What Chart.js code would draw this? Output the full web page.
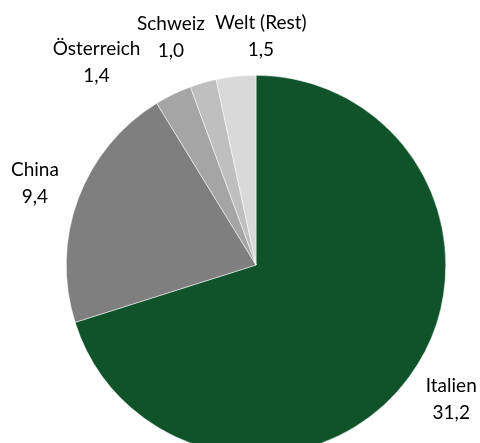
<!DOCTYPE html>
<html>
<head>
<meta charset="utf-8">
<script src="https://cdn.jsdelivr.net/npm/chart.js@4"></script>
<style>
  html, body { margin: 0; padding: 0; background: #fff; overflow: hidden; }
  #wrap { width: 480px; height: 470px; }
</style>
</head>
<body>
<div id="wrap"><canvas id="pieChart" width="480" height="470"></canvas></div>
<script>
const labels = ["Italien", "China", "Österreich", "Schweiz", "Welt (Rest)"];
const values = [31.2, 9.4, 1.4, 1.0, 1.5];
const colors = ["#10532b", "#7f7f7f", "#a5a5a5", "#bfbfbf", "#d9d9d9"];

// label nudges relative to the point at mid-angle
const labelDist = 237;
const nudges = [[4, -6], [1, 1], [-56, 10], [-19, -1], [30, 7]];

const outsideLabels = {
    id: "outsideLabels",
    afterDraw(chart) {
        const ctx = chart.ctx;
        const meta = chart.getDatasetMeta(0);
        ctx.save();
        ctx.font = "19px Lato, sans-serif";
        ctx.fillStyle = "#000";
        ctx.textAlign = "center";
        ctx.textBaseline = "middle";
        meta.data.forEach((arc, i) => {
            const mid = (arc.startAngle + arc.endAngle) / 2;
            const x = arc.x + Math.cos(mid) * labelDist + nudges[i][0];
            const y = arc.y + Math.sin(mid) * labelDist + nudges[i][1];
            const val = values[i].toFixed(1).replace(".", ",");
            ctx.fillText(labels[i], x, y - 13);
            ctx.fillText(val, x, y + 14);
        });
        ctx.restore();
    }
};

new Chart(document.getElementById("pieChart"), {
    type: "pie",
    data: {
        labels: labels,
        datasets: [{
            data: values,
            backgroundColor: colors,
            borderColor: "#ffffff",
            borderWidth: 0.5
        }]
    },
    options: {
        responsive: false,
        animation: false,
        layout: { padding: { top: 75, bottom: 15, left: 66, right: 34 } },
        plugins: {
            legend: { display: false },
            tooltip: { enabled: false }
        }
    },
    plugins: [outsideLabels]
});
</script>
</body>
</html>
